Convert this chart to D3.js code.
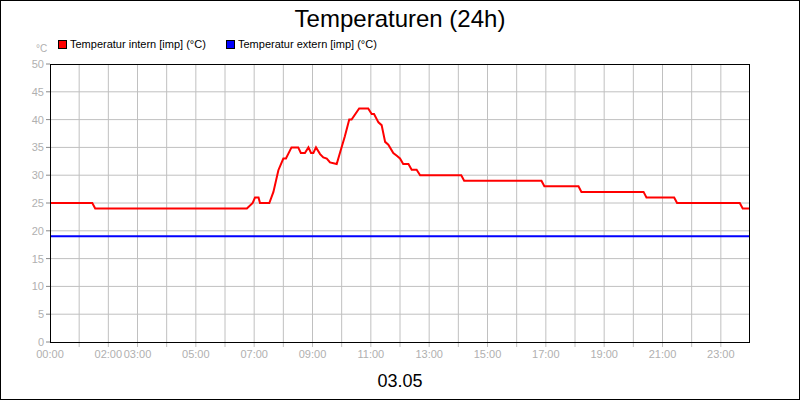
<!DOCTYPE html><html><head><meta charset="utf-8"><script src="https://cdn.jsdelivr.net/npm/d3@7"></script>
<style>body{margin:0;background:#fff}svg{font-family:"Liberation Sans",Arial,sans-serif}</style></head><body><svg id="c" width="800" height="400"></svg><script>
const internHours=[0,1.45,1.55,6.75,6.95,7.03,7.15,7.2,7.52,7.66,7.83,8.0,8.09,8.28,8.51,8.6,8.74,8.86,8.95,9.03,9.12,9.26,9.37,9.49,9.6,9.83,9.94,10.11,10.26,10.34,10.6,10.91,11.03,11.11,11.26,11.37,11.49,11.6,11.77,11.89,12.0,12.11,12.29,12.4,12.57,12.69,14.1,14.2,16.85,16.95,18.12,18.22,20.35,20.45,21.4,21.5,23.65,23.75,24];
const internVals=[25,25,24,24,25,26,26,25,25,27,30.9,33,33,35,35,34,34,35,34,34,35,33.8,33.2,33,32.3,32,34,37,40,40,42,42,41,41,39.5,39,36,35.5,34,33.5,33,32,32,31,31,30,30,29,29,28,28,27,27,26,26,25,25,24,24];
const externHours=[0,24];
const externVals=[19,19];
const yTicks=[0,5,10,15,20,25,30,35,40,45,50];
const xLabelHours=[0,2,3,5,7,9,11,13,15,17,19,21,23];
const svg=d3.select("#c");
svg.append("rect").attr("x",0.5).attr("y",0.5).attr("width",799).attr("height",399).attr("fill","#fff").attr("stroke","#000");
const L=50,R=750,T=64,B=342;
const x=d3.scaleLinear().domain([0,24]).range([L,R]);
const y=d3.scaleLinear().domain([0,50]).range([B,T]);
const g=svg.append("g");
g.selectAll(".vg").data(d3.range(1,24)).join("line").attr("x1",d=>x(d)).attr("x2",d=>x(d)).attr("y1",T).attr("y2",B+5).attr("stroke","#c0c0c0");
g.selectAll(".hg").data(yTicks.slice(1,-1)).join("line").attr("x1",L).attr("x2",R).attr("y1",d=>y(d)).attr("y2",d=>y(d)).attr("stroke","#c0c0c0");
g.selectAll(".yt").data(yTicks).join("line").attr("x1",L-4).attr("x2",L).attr("y1",d=>y(d)).attr("y2",d=>y(d)).attr("stroke","#888");
g.selectAll(".yl").data(yTicks).join("text").attr("x",L-6).attr("y",d=>y(d)+4).attr("text-anchor","end").attr("font-size",11).attr("fill","#b0b0b0").text(d=>d);
g.selectAll(".xl").data(xLabelHours).join("text").attr("x",d=>x(d)).attr("y",B+16).attr("text-anchor","middle").attr("font-size",11).attr("fill","#b0b0b0").text(d=>String(d).padStart(2,"0")+":00");
svg.append("text").attr("x",36).attr("y",52).attr("font-size",10).attr("fill","#b0b0b0").text("°C");
const line=d3.line().x(d=>x(d[0])).y(d=>y(d[1]));
svg.append("path").datum(externHours.map((h,i)=>[h,externVals[i]])).attr("d",line).attr("fill","none").attr("stroke","#0000ff").attr("stroke-width",2);
svg.append("path").datum(internHours.map((h,i)=>[h,internVals[i]])).attr("d",line).attr("fill","none").attr("stroke","#ff0000").attr("stroke-width",2);
svg.append("rect").attr("x",L+0.5).attr("y",T+0.5).attr("width",R-L-1).attr("height",B-T).attr("fill","none").attr("stroke","#000");
svg.append("text").attr("x",400).attr("y",27).attr("text-anchor","middle").attr("font-size",24).text("Temperaturen (24h)");
svg.append("text").attr("x",400).attr("y",387).attr("text-anchor","middle").attr("font-size",18).text("03.05");
const leg=[["Temperatur intern [imp] (°C)","#ff0000",58],["Temperatur extern [imp] (°C)","#0000ff",226]];
leg.forEach(([t,c,lx])=>{svg.append("rect").attr("x",lx+0.5).attr("y",40.5).attr("width",8).attr("height",8).attr("fill",c).attr("stroke","#000");
svg.append("text").attr("x",lx+12).attr("y",48).attr("font-size",11).text(t);});
</script></body></html>
